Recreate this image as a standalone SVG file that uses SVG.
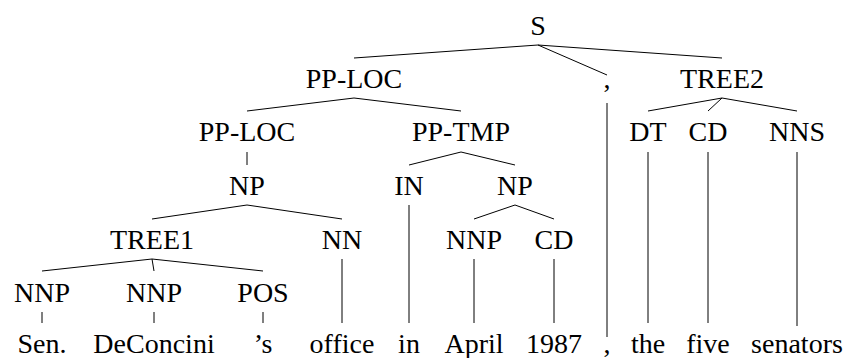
<svg xmlns="http://www.w3.org/2000/svg" width="846" height="358" viewBox="0 0 846 358">
  <style>
    .lbl text { font-family: 'Liberation Serif', Tinos, 'Times New Roman', Times, 'Nimbus Roman', 'FreeSerif', 'Noto Serif', 'DejaVu Serif', serif; font-size: 28px; fill: #000; text-anchor: middle; }
    .edge line { stroke: #000; stroke-width: 1; }
  </style>
  <rect width="846" height="358" fill="#fff"/>

  <!-- tree edges -->
  <g id="connectors" class="edge">
    <line x1="538" y1="45" x2="354" y2="58"/>
    <line x1="538" y1="45" x2="607" y2="75"/>
    <line x1="538" y1="45" x2="722" y2="58"/>
    <line x1="354" y1="98" x2="247" y2="111"/>
    <line x1="354" y1="98" x2="461" y2="111"/>
    <line x1="607" y1="103" x2="607" y2="337"/>
    <line x1="722" y1="98" x2="648" y2="111"/>
    <line x1="722" y1="98" x2="708" y2="111"/>
    <line x1="722" y1="98" x2="797" y2="111"/>
    <line x1="247" y1="152" x2="247" y2="165"/>
    <line x1="461" y1="152" x2="409" y2="165"/>
    <line x1="461" y1="152" x2="515" y2="165"/>
    <line x1="648" y1="152" x2="648" y2="323"/>
    <line x1="708" y1="152" x2="708" y2="323"/>
    <line x1="797" y1="152" x2="797" y2="326"/>
    <line x1="247" y1="205" x2="152" y2="219"/>
    <line x1="247" y1="205" x2="342" y2="219"/>
    <line x1="409" y1="205" x2="409" y2="323"/>
    <line x1="515" y1="205" x2="474" y2="219"/>
    <line x1="515" y1="205" x2="554" y2="219"/>
    <line x1="152" y1="259" x2="42" y2="271"/>
    <line x1="152" y1="259" x2="154" y2="271"/>
    <line x1="152" y1="259" x2="263" y2="271"/>
    <line x1="342" y1="259" x2="342" y2="323"/>
    <line x1="474" y1="259" x2="474" y2="323"/>
    <line x1="554" y1="259" x2="554" y2="323"/>
    <line x1="42" y1="312" x2="42" y2="323"/>
    <line x1="154" y1="312" x2="154" y2="323"/>
    <line x1="263" y1="312" x2="263" y2="323"/>
  </g>

  <g class="lbl">
    <!-- row 1 -->
    <g id="n-S"><text x="538" y="35">S</text></g>
    <!-- row 2 -->
    <g id="n-PPLOC-1"><text x="354" y="88">PP-LOC</text></g>
    <g id="n-comma"><text x="607" y="88">,</text></g>
    <g id="n-TREE2"><text x="722" y="88">TREE2</text></g>
    <!-- row 3 -->
    <g id="n-PPLOC-2"><text x="247" y="141">PP-LOC</text></g>
    <g id="n-PPTMP"><text x="461" y="141">PP-TMP</text></g>
    <g id="n-DT"><text x="648" y="141">DT</text></g>
    <g id="n-CD-1"><text x="708" y="141">CD</text></g>
    <g id="n-NNS"><text x="797" y="141">NNS</text></g>
    <!-- row 4 -->
    <g id="n-NP-1"><text x="247" y="195">NP</text></g>
    <g id="n-IN"><text x="409" y="195">IN</text></g>
    <g id="n-NP-2"><text x="515" y="195">NP</text></g>
    <!-- row 5 -->
    <g id="n-TREE1"><text x="152" y="249">TREE1</text></g>
    <g id="n-NN"><text x="342" y="249">NN</text></g>
    <g id="n-NNP-3"><text x="474" y="249">NNP</text></g>
    <g id="n-CD-2"><text x="554" y="249">CD</text></g>
    <!-- row 6 -->
    <g id="n-NNP-1"><text x="42" y="302">NNP</text></g>
    <g id="n-NNP-2"><text x="154" y="302">NNP</text></g>
    <g id="n-POS"><text x="263" y="302">POS</text></g>
    <!-- leaves -->
    <g id="w-Sen"><text x="42" y="353">Sen.</text></g>
    <g id="w-DeConcini"><text x="154" y="353">DeConcini</text></g>
    <g id="w-s"><text x="263" y="353">’s</text></g>
    <g id="w-office"><text x="342" y="353">office</text></g>
    <g id="w-in"><text x="409" y="353">in</text></g>
    <g id="w-April"><text x="474" y="353">April</text></g>
    <g id="w-1987"><text x="554" y="353">1987</text></g>
    <g id="w-comma"><text x="607" y="353">,</text></g>
    <g id="w-the"><text x="648" y="353">the</text></g>
    <g id="w-five"><text x="708" y="353">five</text></g>
    <g id="w-senators"><text x="797" y="353">senators</text></g>
  </g>
</svg>
